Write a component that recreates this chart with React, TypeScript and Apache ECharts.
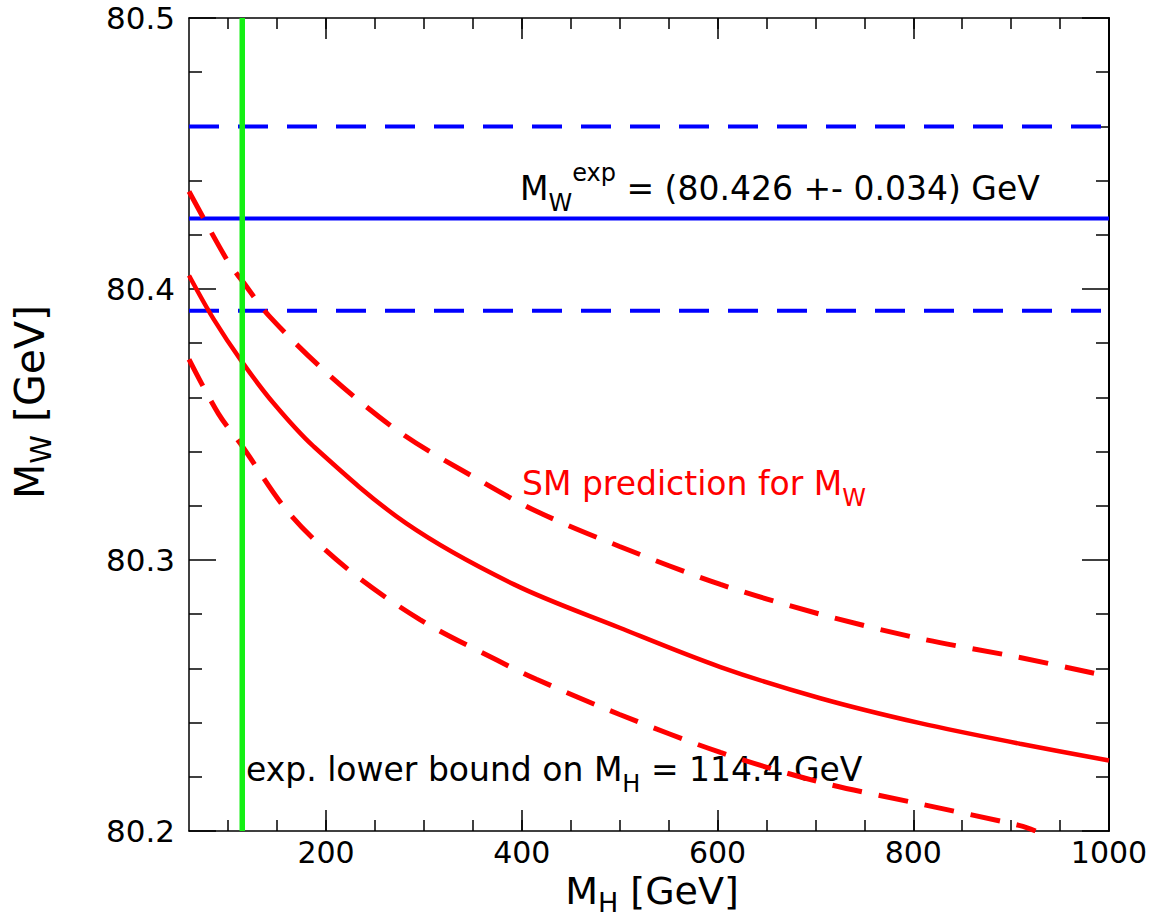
import React, { useEffect, useRef } from "react";
import * as echarts from "echarts";

// ---- data ----
const mhRange = [60, 1000];
const mwRange = [80.2, 80.5];
const xMajorTicks = [200, 400, 600, 800, 1000];
const xMinorTicks = [100, 150, 200, 250, 300, 350, 400, 450, 500, 550, 600, 650, 700, 750, 800, 850, 900, 950, 1000];

const mwExp = 80.426;
const mwExpErr = 0.034;
const mhLowerBound = 114.4;

const mhSolid = [60, 85, 114.4, 146, 187, 282, 392, 500, 603, 705, 807, 909, 1000];
const mwSolid = [80.405, 80.389, 80.373, 80.358, 80.342, 80.3135, 80.291, 80.275, 80.2605, 80.249, 80.2398, 80.2322, 80.226];

const mhUpper = [60, 100, 114.4, 142, 204, 276, 354, 415, 500, 603, 705, 807, 909, 1000];
const mwUpper = [80.436, 80.410, 80.403, 80.390, 80.368, 80.347, 80.330, 80.318, 80.305, 80.291, 80.280, 80.271, 80.264, 80.257];

const mhLower = [60, 90, 114.4, 163, 221, 296, 375, 415, 500, 603, 705, 807, 909, 925];
const mwLower = [80.374, 80.354, 80.342, 80.317, 80.297, 80.278, 80.263, 80.256, 80.243, 80.229, 80.218, 80.210, 80.202, 80.2];

const FONT = "DejaVu Sans";
const RED = "#ff0000";
const BLUE = "#0000ff";
const GREEN = "#14f014";

const pairs = (xs: number[], ys: number[]) => xs.map((x, i) => [x, ys[i]]);

export default function App() {
  const ref = useRef<HTMLDivElement>(null);

  useEffect(() => {
    if (!ref.current) return;
    const chart = echarts.init(ref.current, null, { renderer: "svg" });

    const axisLineStyle = { color: "#000", width: 1.5 };
    const tickLineStyle = { color: "#000", width: 1.5 };
    const labelStyle = { fontFamily: FONT, fontSize: 30, color: "#000" };

    const xBase = (position: string, showLine: boolean, ticks: number[], len: number, labels: boolean) => ({
      type: "value",
      position,
      min: mhRange[0],
      max: mhRange[1],
      axisLine: { show: showLine, onZero: false, lineStyle: axisLineStyle },
      axisTick: { show: true, inside: true, length: len, customValues: ticks, lineStyle: tickLineStyle },
      axisLabel: labels
        ? { show: true, customValues: xMajorTicks, margin: 6, formatter: (v: number) => String(v), ...labelStyle }
        : { show: false },
      splitLine: { show: false },
    });

    const yBase = (position: string, labels: boolean, lineWidth: number) => ({
      type: "value",
      position,
      min: mwRange[0],
      max: mwRange[1],
      interval: 0.1,
      axisLine: { show: true, onZero: false, lineStyle: { color: "#000", width: lineWidth } },
      axisTick: { show: true, inside: true, length: 27, lineStyle: tickLineStyle },
      minorTick: { show: true, splitNumber: 5, length: 13, lineStyle: tickLineStyle },
      axisLabel: labels
        ? { show: true, margin: 14, formatter: (v: number) => v.toFixed(1), ...labelStyle, fontSize: 31 }
        : { show: false },
      splitLine: { show: false },
      minorSplitLine: { show: false },
    });

    const annRich = (color: string) => ({
      m: { fontFamily: FONT, fontSize: 33, lineHeight: 54, fill: color },
      sub: { fontFamily: FONT, fontSize: 24, lineHeight: 24, verticalAlign: "bottom", fill: color },
      sup: { fontFamily: FONT, fontSize: 24, lineHeight: 24, verticalAlign: "top", fill: color },
    });
    const titleRich = (size: number) => ({
      m: { fontFamily: FONT, fontSize: size, lineHeight: 40, fill: "#000" },
      sub: { fontFamily: FONT, fontSize: Math.round(size * 0.7), lineHeight: 30, padding: [22, 0, 0, 0], fill: "#000" },
    });

    const curve = (name: string, data: number[][], width: number, dashed: boolean) => ({
      name,
      type: "line",
      data,
      smooth: 0.33,
      showSymbol: false,
      symbol: "none",
      lineStyle: dashed ? { color: RED, width, type: [30, 17] } : { color: RED, width },
    });

    chart.setOption({
      animation: false,
      backgroundColor: "#fff",
      grid: { left: 189, right: 46, top: 18, bottom: 86, containLabel: false, outerBoundsMode: "none" },
      xAxis: [
        xBase("bottom", true, xMinorTicks, 11, true),
        xBase("top", true, xMinorTicks, 11, false),
        xBase("bottom", false, xMajorTicks, 21, false),
        xBase("top", false, xMajorTicks, 21, false),
      ],
      yAxis: [yBase("left", true, 1.5), yBase("right", false, 2)],
      series: [
        {
          name: "MW exp upper",
          type: "line",
          data: mhRange.map((x) => [x, +(mwExp + mwExpErr).toFixed(3)]),
          showSymbol: false,
          symbol: "none",
          lineStyle: { color: BLUE, width: 4, type: [30, 19] },
        },
        {
          name: "MW exp",
          type: "line",
          data: mhRange.map((x) => [x, mwExp]),
          showSymbol: false,
          symbol: "none",
          lineStyle: { color: BLUE, width: 4 },
        },
        {
          name: "MW exp lower",
          type: "line",
          data: mhRange.map((x) => [x, +(mwExp - mwExpErr).toFixed(3)]),
          showSymbol: false,
          symbol: "none",
          lineStyle: { color: BLUE, width: 4, type: [30, 19] },
        },
        curve("SM upper", pairs(mhUpper, mwUpper), 5, true),
        curve("SM prediction", pairs(mhSolid, mwSolid), 4.5, false),
        curve("SM lower", pairs(mhLower, mwLower), 5, true),
        {
          name: "MH lower bound",
          type: "line",
          data: mwRange.map((y) => [mhLowerBound, y]),
          showSymbol: false,
          symbol: "none",
          lineStyle: { color: GREEN, width: 5.5 },
        },
      ],
      graphic: [
        {
          type: "text",
          x: 520,
          y: 161,
          style: {
            text: "{m|M}{sub|W}{sup|exp}{m| = (80.426 +- 0.034) GeV}",
            rich: annRich("#000"),
            fill: "#000",
            align: "left",
            verticalAlign: "top",
          },
        },
        {
          type: "text",
          x: 522,
          y: 456,
          style: {
            text: "{m|SM prediction for M}{sub|W}",
            rich: annRich(RED),
            fill: RED,
            align: "left",
            verticalAlign: "top",
          },
        },
        {
          type: "text",
          x: 246,
          y: 742,
          style: {
            text: "{m|exp. lower bound on M}{sub|H}{m| = 114.4 GeV}",
            rich: annRich("#000"),
            fill: "#000",
            align: "left",
            verticalAlign: "top",
          },
        },
        {
          type: "text",
          x: 652,
          y: 871,
          style: {
            text: "{m|M}{sub|H}{m| [GeV]}",
            rich: titleRich(38),
            fill: "#000",
            align: "center",
            verticalAlign: "top",
          },
        },
        {
          type: "text",
          x: 30,
          y: 402,
          rotation: Math.PI / 2,
          style: {
            text: "{m|M}{sub|W}{m| [GeV]}",
            rich: titleRich(41),
            fill: "#000",
            align: "center",
            verticalAlign: "middle",
          },
        },
      ],
    });

    return () => chart.dispose();
  }, []);

  return (
    <div
      ref={ref}
      style={{ position: "fixed", left: 0, top: 0, width: 1155, height: 917, background: "#fff" }}
    />
  );
}
